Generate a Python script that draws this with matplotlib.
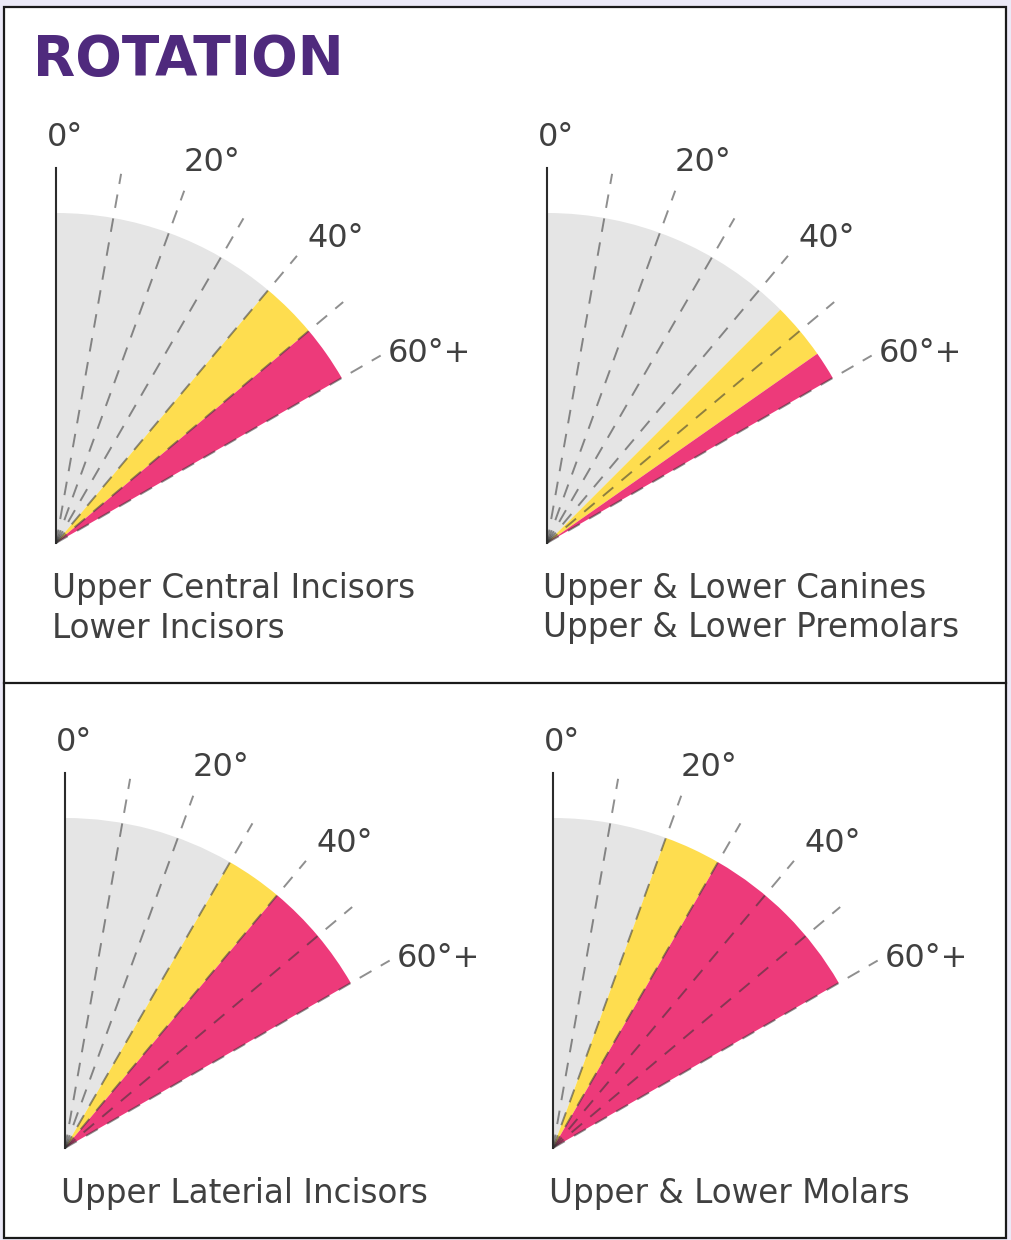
import numpy as np
import matplotlib.pyplot as plt
from matplotlib.patches import Rectangle
from matplotlib.lines import Line2D

# panel data: angle (deg from vertical) where each band ends
captions = ['Upper Central Incisors\nLower Incisors',
            'Upper & Lower Canines\nUpper & Lower Premolars',
            'Upper Laterial Incisors',
            'Upper & Lower Molars']
grey_end = [40, 45, 30, 20]
yellow_end = [50, 55, 40, 30]
max_angle = 60
guide_angles = [10, 20, 30, 40, 50, 60]
tick_angles = [0, 20, 40, 60]
tick_labels = ['0°', '20°', '40°', '60°+']

GREY = '#e5e5e5'
YELLOW = '#fedd4f'
PINK = '#ed3a7a'
TEXT = '#404040'
PURPLE = '#4f2a7d'

W, H = 1012, 1240
R = 330          # fan radius in px
RMAX = 1.4       # axes radius in fan units
origins = [(56, 543), (547, 543), (65, 1148), (553, 1148)]
label_theta = [1.2, 22.3, 42.5, 63.1]
label_r = [1.23, 1.245, 1.253, 1.27]
guide_len = 1.136

fig = plt.figure(figsize=(W / 100, H / 100), dpi=100)
fig.patch.set_facecolor('#ebe9f7')

# frame
fig.add_artist(Rectangle((4 / W, 1 - 1238 / H), 1002 / W, 1231 / H,
                         transform=fig.transFigure, facecolor='white',
                         edgecolor='#1a1a1a', lw=1.6, zorder=-10))
fig.add_artist(Line2D([4 / W, 1006 / W], [1 - 683 / H] * 2,
                      transform=fig.transFigure, color='#1a1a1a', lw=1.6))

fig.text(33 / W, 1 - 75 / H, 'ROTATION', color=PURPLE, fontsize=39.5,
         fontweight='bold', va='baseline', ha='left')

for i, (ox, oy) in enumerate(origins):
    ax = fig.add_axes([(ox - RMAX * R) / W, (H - oy - RMAX * R) / H,
                       2 * RMAX * R / W, 2 * RMAX * R / H], projection='polar')
    ax.set_theta_zero_location('N')
    ax.set_theta_direction(-1)
    ax.set_ylim(0, RMAX)
    ax.set_axis_off()

    bands = [(0, grey_end[i], GREY),
             (grey_end[i], yellow_end[i], YELLOW),
             (yellow_end[i], max_angle, PINK)]
    for a0, a1, c in bands:
        ax.bar(np.deg2rad(a0), 1.0, width=np.deg2rad(a1 - a0), bottom=0,
               align='edge', color=c, linewidth=0, zorder=1)

    for a in guide_angles:
        ax.plot([np.deg2rad(a)] * 2, [0, guide_len], color='#333333',
                alpha=0.55, lw=1.4, dashes=(7, 5.5), zorder=2)
    ax.plot([0, 0], [0, guide_len], color='#2b2b2b', lw=1.5, zorder=3)

    for t, lab, lt, lr in zip(tick_angles, tick_labels, label_theta, label_r):
        ax.text(np.deg2rad(lt), lr, lab, color=TEXT, fontsize=23,
                ha='center', va='center')

    fig.text((ox - 4) / W, 1 - (oy + 29) / H, captions[i], color=TEXT,
             fontsize=23.5, ha='left', va='top', linespacing=1.25)

fig.savefig('out.png', dpi=100)
